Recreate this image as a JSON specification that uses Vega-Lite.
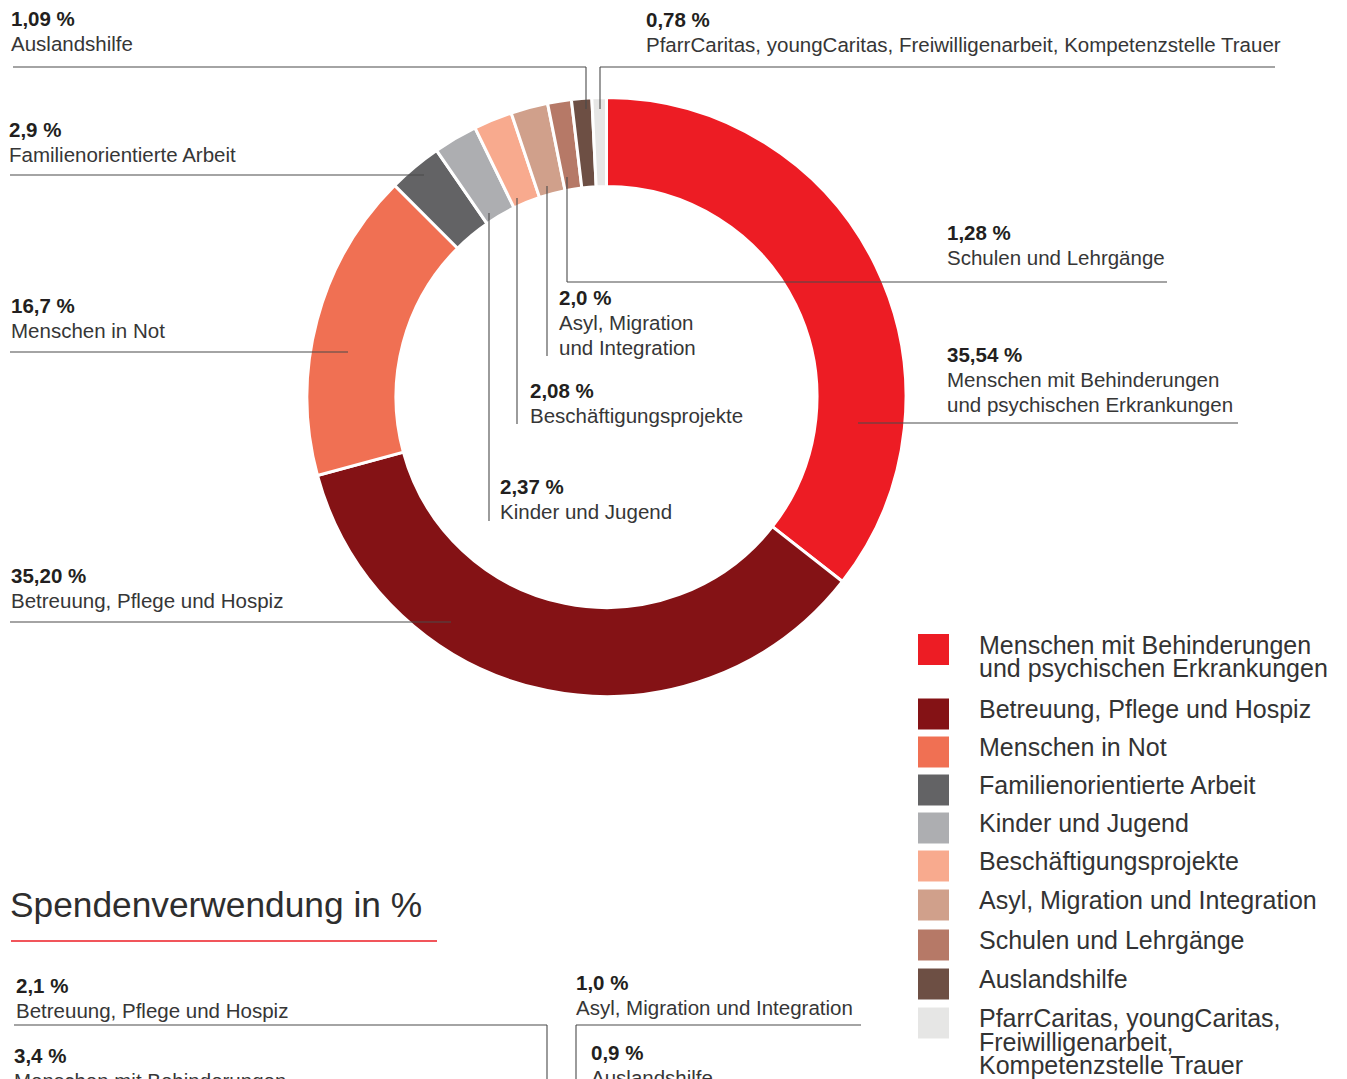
{
  "$schema": "https://vega.github.io/schema/vega-lite/v6.json",
  "width": 1347,
  "height": 1079,
  "autosize": {"type": "none"},
  "padding": 0,
  "background": "white",
  "config": {"view": {"stroke": null}, "text": {"font": "Liberation Sans"}},
  "datasets": {
    "slices": [
      {"rank": 1, "category": "Menschen mit Behinderungen und psychischen Erkrankungen", "value": 35.54, "legendLabel": ["Menschen mit Behinderungen", "und psychischen Erkrankungen"], "legendY": 649.5},
      {"rank": 2, "category": "Betreuung, Pflege und Hospiz", "value": 35.20, "legendLabel": ["Betreuung, Pflege und Hospiz"], "legendY": 714},
      {"rank": 3, "category": "Menschen in Not", "value": 16.7, "legendLabel": ["Menschen in Not"], "legendY": 752},
      {"rank": 4, "category": "Familienorientierte Arbeit", "value": 2.9, "legendLabel": ["Familienorientierte Arbeit"], "legendY": 790},
      {"rank": 5, "category": "Kinder und Jugend", "value": 2.37, "legendLabel": ["Kinder und Jugend"], "legendY": 828},
      {"rank": 6, "category": "Beschäftigungsprojekte", "value": 2.08, "legendLabel": ["Beschäftigungsprojekte"], "legendY": 866},
      {"rank": 7, "category": "Asyl, Migration und Integration", "value": 2.0, "legendLabel": ["Asyl, Migration und Integration"], "legendY": 905},
      {"rank": 8, "category": "Schulen und Lehrgänge", "value": 1.28, "legendLabel": ["Schulen und Lehrgänge"], "legendY": 945},
      {"rank": 9, "category": "Auslandshilfe", "value": 1.09, "legendLabel": ["Auslandshilfe"], "legendY": 984},
      {"rank": 10, "category": "PfarrCaritas, youngCaritas, Freiwilligenarbeit, Kompetenzstelle Trauer", "value": 0.78, "legendLabel": ["PfarrCaritas, youngCaritas,", "Freiwilligenarbeit,", "Kompetenzstelle Trauer"], "legendY": 1023}
    ],
    "notes": [
      {"pct": "1,09 %", "name": ["Auslandshilfe"], "x": 11, "y": 26},
      {"pct": "0,78 %", "name": ["PfarrCaritas, youngCaritas, Freiwilligenarbeit, Kompetenzstelle Trauer"], "x": 646, "y": 27},
      {"pct": "2,9 %", "name": ["Familienorientierte Arbeit"], "x": 9, "y": 137},
      {"pct": "1,28 %", "name": ["Schulen und Lehrgänge"], "x": 947, "y": 240},
      {"pct": "2,0 %", "name": ["Asyl, Migration", "und Integration"], "x": 559, "y": 305},
      {"pct": "2,08 %", "name": ["Beschäftigungsprojekte"], "x": 530, "y": 398},
      {"pct": "2,37 %", "name": ["Kinder und Jugend"], "x": 500, "y": 494},
      {"pct": "16,7 %", "name": ["Menschen in Not"], "x": 11, "y": 313},
      {"pct": "35,54 %", "name": ["Menschen mit Behinderungen", "und psychischen Erkrankungen"], "x": 947, "y": 362},
      {"pct": "35,20 %", "name": ["Betreuung, Pflege und Hospiz"], "x": 11, "y": 583},
      {"pct": "2,1 %", "name": ["Betreuung, Pflege und Hospiz"], "x": 16, "y": 993},
      {"pct": "3,4 %", "name": ["Menschen mit Behinderungen"], "x": 14, "y": 1063},
      {"pct": "1,0 %", "name": ["Asyl, Migration und Integration"], "x": 576, "y": 990},
      {"pct": "0,9 %", "name": ["Auslandshilfe"], "x": 591, "y": 1060}
    ],
    "lines": [
      {"x": 13, "y": 67, "x2": 586, "y2": 67},
      {"x": 586, "y": 67, "x2": 586, "y2": 109},
      {"x": 600, "y": 67, "x2": 1275, "y2": 67},
      {"x": 600, "y": 67, "x2": 600, "y2": 109},
      {"x": 10, "y": 175, "x2": 424, "y2": 175},
      {"x": 567, "y": 282, "x2": 1167, "y2": 282},
      {"x": 567, "y": 177, "x2": 567, "y2": 282},
      {"x": 547, "y": 186, "x2": 547, "y2": 356},
      {"x": 517, "y": 198, "x2": 517, "y2": 424},
      {"x": 489, "y": 213, "x2": 489, "y2": 521},
      {"x": 10, "y": 352, "x2": 348, "y2": 352},
      {"x": 858, "y": 423, "x2": 1238, "y2": 423},
      {"x": 10, "y": 622, "x2": 451, "y2": 622},
      {"x": 14, "y": 1025, "x2": 547, "y2": 1025},
      {"x": 547, "y": 1025, "x2": 547, "y2": 1079},
      {"x": 576, "y": 1025, "x2": 861, "y2": 1025},
      {"x": 576, "y": 1025, "x2": 576, "y2": 1079}
    ]
  },
  "layer": [
    {
      "data": {"name": "slices"},
      "mark": {"type": "arc", "innerRadius": 210.5, "outerRadius": 299.5, "stroke": "white", "strokeWidth": 3},
      "encoding": {
        "x": {"datum": 606.5, "type": "quantitative", "scale": {"domain": [0, 1347], "nice": false, "zero": false}, "axis": null},
        "y": {"datum": 397, "type": "quantitative", "scale": {"domain": [0, 1079], "nice": false, "zero": false, "reverse": true}, "axis": null},
        "theta": {"field": "value", "type": "quantitative", "stack": true},
        "order": {"field": "rank", "type": "quantitative"},
        "color": {"field": "category", "type": "nominal", "legend": null,
          "scale": {
            "domain": ["Menschen mit Behinderungen und psychischen Erkrankungen", "Betreuung, Pflege und Hospiz", "Menschen in Not", "Familienorientierte Arbeit", "Kinder und Jugend", "Beschäftigungsprojekte", "Asyl, Migration und Integration", "Schulen und Lehrgänge", "Auslandshilfe", "PfarrCaritas, youngCaritas, Freiwilligenarbeit, Kompetenzstelle Trauer"],
            "range": ["#ED1C24", "#841215", "#F07053", "#636365", "#ADAEB1", "#F8AA8E", "#D0A08B", "#B67967", "#6D4F44", "#E6E6E5"]
          }
        }
      }
    },
    {
      "data": {"name": "slices"},
      "mark": {"type": "square", "size": 961, "filled": true, "opacity": 1},
      "encoding": {
        "x": {"datum": 933.5, "type": "quantitative", "scale": {"domain": [0, 1347], "nice": false, "zero": false}, "axis": null},
        "y": {"field": "legendY", "type": "quantitative", "scale": {"domain": [0, 1079], "nice": false, "zero": false, "reverse": true}, "axis": null},
        "color": {"field": "category", "type": "nominal", "legend": null,
          "scale": {
            "domain": ["Menschen mit Behinderungen und psychischen Erkrankungen", "Betreuung, Pflege und Hospiz", "Menschen in Not", "Familienorientierte Arbeit", "Kinder und Jugend", "Beschäftigungsprojekte", "Asyl, Migration und Integration", "Schulen und Lehrgänge", "Auslandshilfe", "PfarrCaritas, youngCaritas, Freiwilligenarbeit, Kompetenzstelle Trauer"],
            "range": ["#ED1C24", "#841215", "#F07053", "#636365", "#ADAEB1", "#F8AA8E", "#D0A08B", "#B67967", "#6D4F44", "#E6E6E5"]
          }
        }
      }
    },
    {
      "data": {"name": "slices"},
      "mark": {"type": "text", "align": "left", "baseline": "alphabetic", "fontSize": 25, "dy": 4, "lineHeight": 23.5, "color": "#333333"},
      "encoding": {
        "x": {"datum": 979, "type": "quantitative", "scale": {"domain": [0, 1347], "nice": false, "zero": false}, "axis": null},
        "y": {"field": "legendY", "type": "quantitative", "scale": {"domain": [0, 1079], "nice": false, "zero": false, "reverse": true}, "axis": null},
        "text": {"field": "legendLabel"}
      }
    },
    {
      "data": {"name": "lines"},
      "mark": {"type": "rule", "color": "#4a4a4a", "strokeWidth": 1.1},
      "encoding": {
        "x": {"field": "x", "type": "quantitative", "scale": {"domain": [0, 1347], "nice": false, "zero": false}, "axis": null},
        "y": {"field": "y", "type": "quantitative", "scale": {"domain": [0, 1079], "nice": false, "zero": false, "reverse": true}, "axis": null},
        "x2": {"field": "x2"},
        "y2": {"field": "y2"}
      }
    },
    {
      "data": {"values": [{"title": "Spendenverwendung in %"}]},
      "mark": {"type": "rule", "color": "#ED1C24", "strokeWidth": 1.5},
      "encoding": {
        "x": {"datum": 11, "type": "quantitative", "scale": {"domain": [0, 1347], "nice": false, "zero": false}, "axis": null},
        "x2": {"datum": 437},
        "y": {"datum": 941, "type": "quantitative", "scale": {"domain": [0, 1079], "nice": false, "zero": false, "reverse": true}, "axis": null}
      }
    },
    {
      "data": {"values": [{"title": "Spendenverwendung in %"}]},
      "mark": {"type": "text", "align": "left", "baseline": "alphabetic", "fontSize": 35.3, "color": "#2e2e2e"},
      "encoding": {
        "x": {"datum": 10, "type": "quantitative", "scale": {"domain": [0, 1347], "nice": false, "zero": false}, "axis": null},
        "y": {"datum": 917, "type": "quantitative", "scale": {"domain": [0, 1079], "nice": false, "zero": false, "reverse": true}, "axis": null},
        "text": {"field": "title"}
      }
    },
    {
      "data": {"name": "notes"},
      "mark": {"type": "text", "align": "left", "baseline": "alphabetic", "fontSize": 20.5, "fontWeight": "bold", "color": "#231f20"},
      "encoding": {
        "x": {"field": "x", "type": "quantitative", "scale": {"domain": [0, 1347], "nice": false, "zero": false}, "axis": null},
        "y": {"field": "y", "type": "quantitative", "scale": {"domain": [0, 1079], "nice": false, "zero": false, "reverse": true}, "axis": null},
        "text": {"field": "pct"}
      }
    },
    {
      "data": {"name": "notes"},
      "mark": {"type": "text", "align": "left", "baseline": "alphabetic", "fontSize": 20.5, "dy": 25, "lineHeight": 25, "color": "#363636"},
      "encoding": {
        "x": {"field": "x", "type": "quantitative", "scale": {"domain": [0, 1347], "nice": false, "zero": false}, "axis": null},
        "y": {"field": "y", "type": "quantitative", "scale": {"domain": [0, 1079], "nice": false, "zero": false, "reverse": true}, "axis": null},
        "text": {"field": "name"}
      }
    }
  ]
}
